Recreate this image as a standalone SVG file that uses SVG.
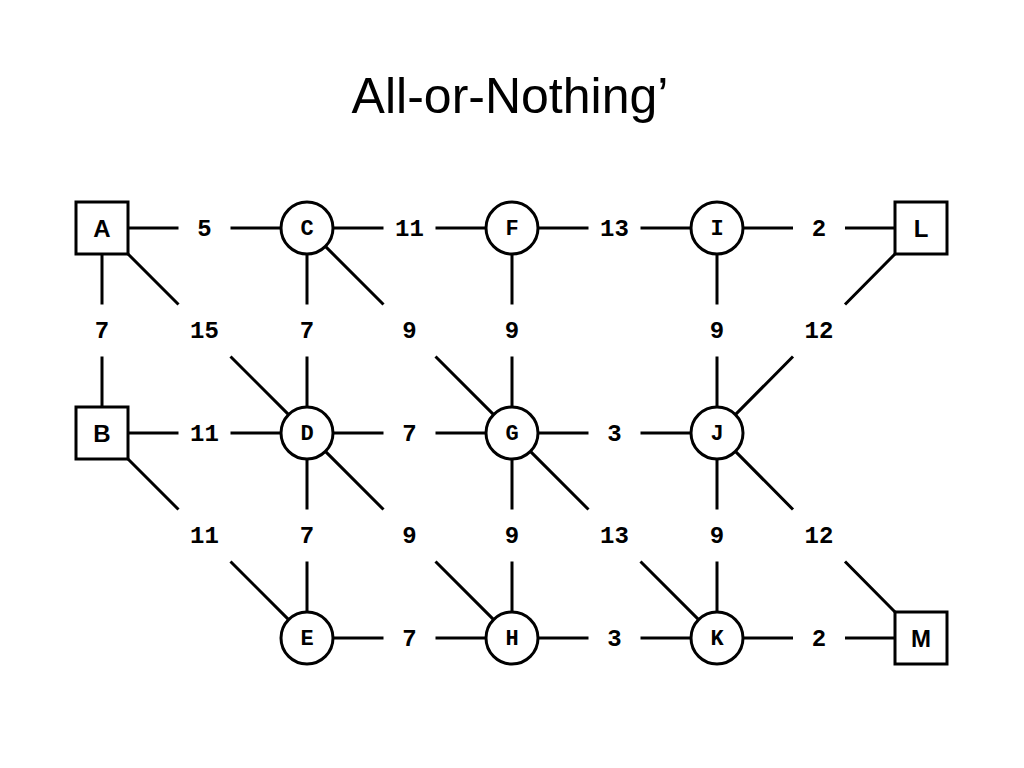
<svg xmlns="http://www.w3.org/2000/svg" width="1024" height="768" viewBox="0 0 1024 768">
<style>
.e{stroke:#000;stroke-width:3;fill:none}
.n{stroke:#000;stroke-width:3;fill:#fff}
.lc{font-family:"Liberation Mono","Courier New",monospace;font-weight:bold;font-size:22px;text-anchor:middle}
.ls{font-family:"Liberation Sans",Arial,sans-serif;font-weight:bold;font-size:24px;text-anchor:middle}
.w{font-family:"Liberation Mono","Courier New",monospace;font-weight:bold;font-size:24px;text-anchor:middle}
.t{font-family:"Liberation Sans",Arial,sans-serif;font-size:50px;text-anchor:middle}
</style>
<rect width="1024" height="768" fill="#fff"/>
<text class="t" x="510" y="113">All-or-Nothing’</text>
<g id="connectors">
<path class="e" d="M128,228H178.5M230.5,228H281"/>
<path class="e" d="M333,228H383.5M435.5,228H486"/>
<path class="e" d="M538,228H588.5M640.5,228H691"/>
<path class="e" d="M743,228H793M845,228H895"/>
<path class="e" d="M102,254V304.5M102,356.5V407"/>
<path class="e" d="M307,254V304.5M307,356.5V407"/>
<path class="e" d="M512,254V304.5M512,356.5V407"/>
<path class="e" d="M717,254V304.5M717,356.5V407"/>
<path class="e" d="M128,254L178.5,304.5M230.5,356.5L288.6,414.6"/>
<path class="e" d="M325.4,246.4L383.5,304.5M435.5,356.5L493.6,414.6"/>
<path class="e" d="M895,254L845,304.5M793,356.5L735.4,414.6"/>
<path class="e" d="M128,433H178.5M230.5,433H281"/>
<path class="e" d="M333,433H383.5M435.5,433H486"/>
<path class="e" d="M538,433H588.5M640.5,433H691"/>
<path class="e" d="M307,459V509.5M307,561.5V612"/>
<path class="e" d="M512,459V509.5M512,561.5V612"/>
<path class="e" d="M717,459V509.5M717,561.5V612"/>
<path class="e" d="M128,459L178.5,509.5M230.5,561.5L288.6,619.6"/>
<path class="e" d="M325.4,451.4L383.5,509.5M435.5,561.5L493.6,619.6"/>
<path class="e" d="M530.4,451.4L588.5,509.5M640.5,561.5L698.6,619.6"/>
<path class="e" d="M735.4,451.4L793,509.5M845,561.5L895,612"/>
<path class="e" d="M333,638H383.5M435.5,638H486"/>
<path class="e" d="M538,638H588.5M640.5,638H691"/>
<path class="e" d="M743,638H793M845,638H895"/>
<g>
<text class="w" x="204.5" y="236">5</text>
<text class="w" x="409.5" y="236">11</text>
<text class="w" x="614.5" y="236">13</text>
<text class="w" x="819" y="236">2</text>
<text class="w" x="102" y="338">7</text>
<text class="w" x="204.5" y="338">15</text>
<text class="w" x="307" y="338">7</text>
<text class="w" x="409.5" y="338">9</text>
<text class="w" x="512" y="338">9</text>
<text class="w" x="717" y="338">9</text>
<text class="w" x="819" y="338">12</text>
<text class="w" x="204.5" y="441">11</text>
<text class="w" x="409.5" y="441">7</text>
<text class="w" x="614.5" y="441">3</text>
<text class="w" x="204.5" y="543">11</text>
<text class="w" x="307" y="543">7</text>
<text class="w" x="409.5" y="543">9</text>
<text class="w" x="512" y="543">9</text>
<text class="w" x="614.5" y="543">13</text>
<text class="w" x="717" y="543">9</text>
<text class="w" x="819" y="543">12</text>
<text class="w" x="409.5" y="646">7</text>
<text class="w" x="614.5" y="646">3</text>
<text class="w" x="819" y="646">2</text>
</g>
</g>
<g id="A"><rect class="n" x="76" y="202" width="52" height="52"/><text class="ls" x="102" y="236.5">A</text></g>
<g id="B"><rect class="n" x="76" y="407" width="52" height="52"/><text class="ls" x="102" y="441.5">B</text></g>
<g id="L"><rect class="n" x="895" y="202" width="52" height="52"/><text class="ls" x="921" y="236.5">L</text></g>
<g id="M"><rect class="n" x="895" y="612" width="52" height="52"/><text class="ls" x="921" y="646.5">M</text></g>
<g id="C"><circle class="n" cx="307" cy="228" r="26"/><text class="lc" x="307" y="234.5">C</text></g>
<g id="F"><circle class="n" cx="512" cy="228" r="26"/><text class="lc" x="512" y="234.5">F</text></g>
<g id="I"><circle class="n" cx="717" cy="228" r="26"/><text class="lc" x="717" y="234.5">I</text></g>
<g id="D"><circle class="n" cx="307" cy="433" r="26"/><text class="lc" x="307" y="439.5">D</text></g>
<g id="G"><circle class="n" cx="512" cy="433" r="26"/><text class="lc" x="512" y="439.5">G</text></g>
<g id="J"><circle class="n" cx="717" cy="433" r="26"/><text class="lc" x="717" y="439.5">J</text></g>
<g id="E"><circle class="n" cx="307" cy="638" r="26"/><text class="lc" x="307" y="644.5">E</text></g>
<g id="H"><circle class="n" cx="512" cy="638" r="26"/><text class="lc" x="512" y="644.5">H</text></g>
<g id="K"><circle class="n" cx="717" cy="638" r="26"/><text class="lc" x="717" y="644.5">K</text></g>
</svg>
